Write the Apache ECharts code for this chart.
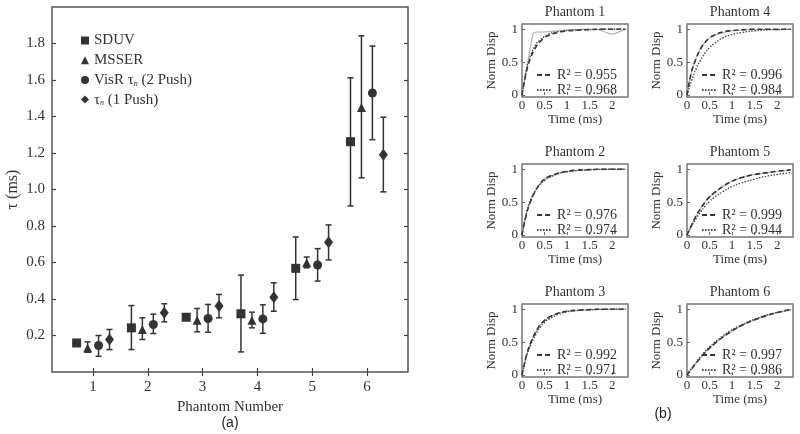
<!DOCTYPE html>
<html><head><meta charset="utf-8">
<script src="https://cdn.jsdelivr.net/npm/echarts@6/dist/echarts.min.js"></script>
<style>html,body{margin:0;padding:0;background:#fff}#c{width:800px;height:434px}</style>
</head><body><div id="c"></div>
<script>
// ---------- Panel (a) data ----------
const phantoms = [1, 2, 3, 4, 5, 6];
const methodOffset = [-0.3, -0.1, 0.1, 0.3];
const sduvMean  = [0.159, 0.242, 0.300, 0.319, 0.568, 1.262];
const sduvLow   = [0.151, 0.123, 0.292, 0.110, 0.397, 0.910];
const sduvHigh  = [0.167, 0.364, 0.308, 0.531, 0.740, 1.612];
const msserMean = [0.132, 0.233, 0.284, 0.284, 0.599, 1.450];
const msserLow  = [0.108, 0.178, 0.220, 0.242, 0.571, 1.064];
const msserHigh = [0.165, 0.297, 0.348, 0.328, 0.630, 1.842];
const visrMean  = [0.145, 0.260, 0.293, 0.291, 0.586, 1.529];
const visrLow   = [0.086, 0.211, 0.218, 0.212, 0.498, 1.273];
const visrHigh  = [0.200, 0.317, 0.370, 0.368, 0.676, 1.786];
const pushMean  = [0.178, 0.324, 0.361, 0.410, 0.711, 1.190];
const pushLow   = [0.123, 0.275, 0.297, 0.333, 0.614, 0.987];
const pushHigh  = [0.233, 0.374, 0.425, 0.489, 0.806, 1.396];
const xTickLabels = [1, 2, 3, 4, 5, 6];
const yTickLabels = [0.2, 0.4, 0.6, 0.8, 1.0, 1.2, 1.4, 1.6, 1.8];

// ---------- Panel (b) data ----------
const panelNames = ['Phantom 1', 'Phantom 2', 'Phantom 3', 'Phantom 4', 'Phantom 5', 'Phantom 6'];
const dashR2 = ['0.955', '0.976', '0.992', '0.996', '0.999', '0.997'];
const dotR2  = ['0.968', '0.974', '0.971', '0.984', '0.944', '0.986'];
const timeTicks = [0, 0.5, 1, 1.5, 2];
const dispTicks = [0, 0.5, 1];
const fitTime = [0, 0.1, 0.2, 0.3, 0.4, 0.5, 0.6, 0.8, 1.0, 1.2, 1.5, 1.8, 2.0, 2.3];
const dash1 = [0, 0.36, 0.58, 0.72, 0.81, 0.87, 0.91, 0.95, 0.975, 0.985, 0.995, 1.0, 1.0, 1.0];
const dot1  = [0, 0.40, 0.62, 0.76, 0.84, 0.89, 0.93, 0.965, 0.98, 0.99, 0.995, 1.0, 1.0, 1.0];
const dash2 = [0, 0.32, 0.53, 0.67, 0.78, 0.85, 0.89, 0.94, 0.97, 0.985, 0.995, 1.0, 1.0, 1.0];
const dot2  = [0, 0.34, 0.55, 0.68, 0.77, 0.83, 0.87, 0.93, 0.96, 0.98, 0.99, 1.0, 1.0, 1.0];
const dash3 = [0, 0.30, 0.50, 0.65, 0.76, 0.83, 0.88, 0.94, 0.97, 0.985, 0.995, 1.0, 1.0, 1.0];
const dot3  = [0, 0.28, 0.47, 0.61, 0.72, 0.80, 0.85, 0.92, 0.96, 0.98, 0.99, 1.0, 1.0, 1.0];
const dash4 = [0, 0.35, 0.55, 0.70, 0.80, 0.87, 0.91, 0.96, 0.98, 0.99, 1.0, 1.0, 1.0, 1.0];
const dot4  = [0, 0.22, 0.40, 0.53, 0.64, 0.72, 0.78, 0.87, 0.92, 0.95, 0.975, 0.99, 0.995, 1.0];
const dash5 = [0, 0.15, 0.29, 0.40, 0.50, 0.58, 0.64, 0.74, 0.82, 0.87, 0.92, 0.95, 0.97, 0.99];
const dot5  = [0, 0.13, 0.25, 0.35, 0.44, 0.51, 0.57, 0.66, 0.74, 0.79, 0.85, 0.90, 0.92, 0.95];
const dash6 = [0, 0.09, 0.18, 0.26, 0.34, 0.41, 0.47, 0.58, 0.67, 0.75, 0.84, 0.91, 0.95, 1.0];
const dot6  = [0, 0.10, 0.19, 0.28, 0.36, 0.43, 0.49, 0.60, 0.69, 0.76, 0.85, 0.92, 0.95, 0.99];
const rawTime1 = [0, 0.05, 0.1, 0.15, 0.2, 0.25, 0.3, 0.5, 0.8, 1.0, 1.3, 1.6, 1.75, 1.85, 1.95, 2.05, 2.15, 2.3];
const raw1     = [0, 0.18, 0.38, 0.58, 0.78, 0.94, 0.955, 0.96, 0.975, 0.99, 1.0, 1.0, 0.985, 0.955, 0.93, 0.93, 0.96, 1.0];
const rawTime  = [0, 0.05, 0.1, 0.2, 0.3, 0.4, 0.5, 0.6, 0.8, 1.0, 1.2, 1.4, 1.6, 1.8, 2.0, 2.2, 2.3];
const raw2 = [0, 0.18, 0.33, 0.54, 0.68, 0.78, 0.85, 0.89, 0.94, 0.97, 0.985, 0.99, 1.0, 0.995, 1.0, 1.0, 1.0];
const raw3 = [0, 0.16, 0.31, 0.51, 0.65, 0.76, 0.83, 0.88, 0.94, 0.97, 0.98, 0.99, 1.0, 0.995, 1.0, 1.0, 1.0];
const raw4 = [0, 0.20, 0.35, 0.56, 0.71, 0.80, 0.87, 0.91, 0.95, 0.98, 0.985, 1.0, 0.995, 1.0, 0.99, 1.0, 1.0];
const raw5 = [0, 0.08, 0.15, 0.29, 0.40, 0.50, 0.58, 0.64, 0.74, 0.82, 0.87, 0.91, 0.93, 0.95, 0.97, 0.98, 0.99];
const raw6 = [0, 0.05, 0.09, 0.18, 0.26, 0.34, 0.41, 0.47, 0.58, 0.67, 0.75, 0.81, 0.86, 0.91, 0.95, 0.98, 1.0];

const panelDash = [dash1, dash2, dash3, dash4, dash5, dash6];
const panelDot  = [dot1, dot2, dot3, dot4, dot5, dot6];
const panelRawT = [rawTime1, rawTime, rawTime, rawTime, rawTime, rawTime];
const panelRaw  = [raw1, raw2, raw3, raw4, raw5, raw6];

// ---------- layout ----------
const SERIF = 'Liberation Serif';
const SANS = 'Liberation Sans';
const INK = '#333';
const colLeft = [522, 687];
const colWidth = 106;
const rowTop = [24, 164, 304];
const boxH = 73;

const chart = echarts.init(document.getElementById('c'), null, {renderer: 'canvas'});

const grids = [{left: 52, top: 7, width: 356, height: 365, show: true, borderColor: '#555', borderWidth: 1.5, backgroundColor: '#fff'}];
const xAxes = [
  {type: 'value', gridIndex: 0, min: 0.25, max: 6.75, position: 'bottom',
   axisLine: {show: false}, splitLine: {show: false},
   axisTick: {inside: true, length: 4, customValues: xTickLabels, lineStyle: {color: '#444', width: 1.2}},
   axisLabel: {customValues: xTickLabels, margin: 8, fontSize: 15, fontFamily: SERIF, color: INK},
   name: 'Phantom Number', nameLocation: 'middle', nameGap: 24,
   nameTextStyle: {fontSize: 15, fontFamily: SERIF, color: INK}},
  {type: 'value', gridIndex: 0, min: 0.25, max: 6.75, position: 'top',
   axisLine: {show: false}, splitLine: {show: false},
   axisTick: {inside: true, length: 4, customValues: xTickLabels, lineStyle: {color: '#444', width: 1.2}},
   axisLabel: {show: false}}
];
const yAxes = [
  {type: 'value', gridIndex: 0, min: 0, max: 2.0, position: 'left',
   axisLine: {show: false}, splitLine: {show: false},
   axisTick: {inside: true, length: 4, customValues: yTickLabels, lineStyle: {color: '#444', width: 1.2}},
   axisLabel: {customValues: yTickLabels, margin: 7, fontSize: 15, fontFamily: SERIF, color: INK,
               formatter: v => v.toFixed(1)},
   name: 'τ (ms)', nameLocation: 'middle', nameGap: 31, nameRotate: 90,
   nameTextStyle: {fontSize: 16, fontFamily: SERIF, color: INK}},
  {type: 'value', gridIndex: 0, min: 0, max: 2.0, position: 'right',
   axisLine: {show: false}, splitLine: {show: false},
   axisTick: {inside: true, length: 4, customValues: yTickLabels, lineStyle: {color: '#444', width: 1.2}},
   axisLabel: {show: false}}
];

const series = [];
const methodDefs = [
  {name: 'SDUV', symbol: 'rect', size: 9, mean: sduvMean, low: sduvLow, high: sduvHigh},
  {name: 'MSSER', symbol: 'triangle', size: 9, mean: msserMean, low: msserLow, high: msserHigh},
  {name: 'VisR', symbol: 'circle', size: 9, mean: visrMean, low: visrLow, high: visrHigh},
  {name: 'Push1', symbol: 'diamond', size: [9, 12], mean: pushMean, low: pushLow, high: pushHigh}
];
function renderErr(params, api) {
  const x = api.value(0), lo = api.value(1), hi = api.value(2);
  const p1 = api.coord([x, hi]), p2 = api.coord([x, lo]);
  const w = 3;
  const style = {stroke: INK, lineWidth: 1.5};
  return {type: 'group', children: [
    {type: 'line', shape: {x1: p1[0], y1: p1[1], x2: p2[0], y2: p2[1]}, style},
    {type: 'line', shape: {x1: p1[0] - w, y1: p1[1], x2: p1[0] + w, y2: p1[1]}, style},
    {type: 'line', shape: {x1: p2[0] - w, y1: p2[1], x2: p2[0] + w, y2: p2[1]}, style}
  ]};
}
methodDefs.forEach((m, k) => {
  series.push({
    type: 'custom', name: m.name + '_err', xAxisIndex: 0, yAxisIndex: 0,
    renderItem: renderErr, encode: {x: 0, y: [1, 2]}, silent: true, z: 2,
    data: phantoms.map((p, i) => [p + methodOffset[k], m.low[i], m.high[i]])
  });
  series.push({
    type: 'scatter', name: m.name, xAxisIndex: 0, yAxisIndex: 0,
    symbol: m.symbol, symbolSize: m.size, z: 3,
    itemStyle: {color: INK, opacity: 1},
    data: phantoms.map((p, i) => [p + methodOffset[k], m.mean[i]])
  });
});

const legends = [{
  orient: 'vertical', left: 76, top: 28, itemWidth: 8, itemHeight: 8, itemGap: 4.7,
  selectedMode: false, data: ['SDUV', 'MSSER', 'VisR', 'Push1'],
  formatter: function (name) {
    if (name === 'VisR') return '{t|VisR τ}{s|n}{t| (2 Push)}';
    if (name === 'Push1') return '{t|τ}{s|n}{t| (1 Push)}';
    return '{t|' + name + '}';
  },
  textStyle: {fontSize: 15, fontFamily: SERIF, color: INK, lineHeight: 13,
    rich: {t: {fontSize: 15, fontFamily: SERIF, color: INK, lineHeight: 13},
           s: {fontSize: 8, fontStyle: 'italic', fontFamily: SERIF, color: INK, padding: [7, 0, 0, 0]}}}
}];

const graphics = [
  {type: 'text', x: 230, y: 423, style: {text: '(a)', font: '14px "' + SANS + '"', fill: '#222', textAlign: 'center', textVerticalAlign: 'middle'}},
  {type: 'text', x: 663, y: 414, style: {text: '(b)', font: '14px "' + SANS + '"', fill: '#222', textAlign: 'center', textVerticalAlign: 'middle'}}
];

panelNames.forEach((pn, i) => {
  const col = Math.floor(i / 3), row = i % 3;
  const gi = i + 1;      // grid index
  const ai = i + 2;      // axis index (main grid uses 2 x and 2 y axes)
  const left = colLeft[col], top = rowTop[row];
  grids.push({left: left, top: top, width: colWidth, height: boxH, show: true,
              borderColor: '#777', borderWidth: 1.5, backgroundColor: '#fff'});
  xAxes.push({type: 'value', gridIndex: gi, min: 0, max: 2.35,
    axisLine: {show: false}, splitLine: {show: false},
    axisTick: {inside: true, length: 3, customValues: timeTicks, lineStyle: {color: '#666'}},
    axisLabel: {customValues: timeTicks, margin: 2, fontSize: 13, fontFamily: SERIF, color: INK},
    name: 'Time (ms)', nameLocation: 'middle', nameGap: 14,
    nameTextStyle: {fontSize: 13, fontFamily: SERIF, color: INK}});
  yAxes.push({type: 'value', gridIndex: gi, min: -0.03, max: 1.08,
    axisLine: {show: false}, splitLine: {show: false},
    axisTick: {inside: true, length: 3, customValues: dispTicks, lineStyle: {color: '#666'}},
    axisLabel: {customValues: dispTicks, margin: 4, fontSize: 13, fontFamily: SERIF, color: INK},
    name: 'Norm Disp', nameLocation: 'middle', nameGap: 22, nameRotate: 90,
    nameTextStyle: {fontSize: 13, fontFamily: SERIF, color: INK}});
  const rawData = panelRawT[i].map((t, j) => [t, panelRaw[i][j]]);
  const dashName = 'R² = ' + dashR2[i];
  const dotName = 'R² = ' + dotR2[i];
  series.push({type: 'line', name: 'raw' + i, xAxisIndex: ai, yAxisIndex: ai, showSymbol: false,
    symbol: 'none', silent: true, z: 2, lineStyle: {color: '#b5b5b5', width: 1.2}, data: rawData});
  series.push({type: 'line', name: dashName, xAxisIndex: ai, yAxisIndex: ai, showSymbol: false,
    symbol: 'none', smooth: true, silent: true, z: 3,
    itemStyle: {color: '#333'},
    lineStyle: {color: '#333', width: 1.6, type: [5, 3]},
    data: fitTime.map((t, j) => [t, panelDash[i][j]])});
  series.push({type: 'line', name: dotName, xAxisIndex: ai, yAxisIndex: ai, showSymbol: false,
    symbol: 'none', smooth: true, silent: true, z: 3,
    itemStyle: {color: '#444'},
    lineStyle: {color: '#444', width: 1.3, type: [1.5, 1.5]},
    data: fitTime.map((t, j) => [t, panelDot[i][j]])});
  legends.push({orient: 'vertical', right: 800 - (left + colWidth) + 6, top: top + 39,
    itemWidth: 15, itemHeight: 8, itemGap: 1, selectedMode: false,
    itemStyle: {color: 'transparent', borderColor: 'transparent', borderWidth: 0, opacity: 0},
    data: [dashName, dotName],
    textStyle: {fontSize: 14, fontFamily: SERIF, color: INK, lineHeight: 13}});
  graphics.push({type: 'text', x: left + colWidth / 2, y: top - 12,
    style: {text: pn, font: '14px "' + SERIF + '"', fill: INK, textAlign: 'center', textVerticalAlign: 'middle'}});
});

chart.setOption({
  animation: false,
  backgroundColor: '#fff',
  grid: grids, xAxis: xAxes, yAxis: yAxes,
  legend: legends, series: series, graphic: graphics
});
</script>
</body></html>
